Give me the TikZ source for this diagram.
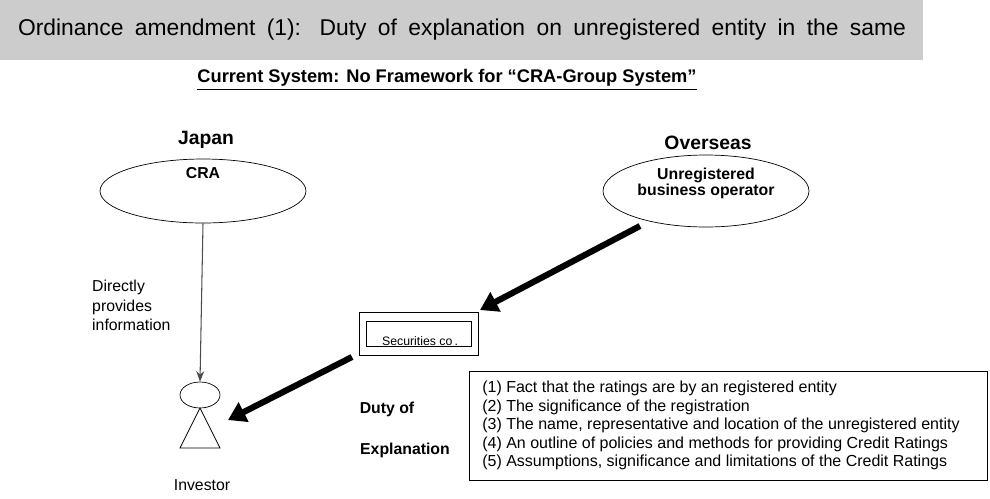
\documentclass[tikz,border=0pt]{standalone}
\usepackage{fontspec}
\setmainfont{Liberation Sans}
\usetikzlibrary{positioning,shapes.geometric,arrows.meta}
\tikzset{
  bigarrow/.style={-{Triangle[length=10pt,width=12pt]},line width=3.5pt},
  thinarrow/.style={-{Stealth[length=6pt]},draw=black!70,semithick},
  oval/.style={ellipse,draw,thin},
  lbl/.style={font=\bfseries\fontsize{11}{13}\selectfont}
}
\begin{document}
\begin{tikzpicture}[x=0.02cm,y=-0.02cm]
\useasboundingbox (0,0) rectangle (990,498);
\fill[black!20] (0,0) rectangle (923,60);
\node (title) at (462,30) {\fontsize{13}{16}\selectfont\makebox[17.76cm][s]{Ordinance amendment (1): Duty of explanation on unregistered entity in the same}};
\node (sub) at (447,80) {\fontsize{10.4}{12}\selectfont\bfseries\underline{Current System: No Framework for “CRA-Group System”}};
% ovals
\node[lbl] (japan) at (206,140) {Japan};
\node[oval,minimum width=4.12cm,minimum height=1.28cm] (cra) at (203,191) {};
\node[font=\bfseries\small] (cratext) at (203,173) {CRA};
\node[lbl] (overseas) at (708,143) {Overseas};
\node[oval,minimum width=4.12cm,minimum height=1.44cm] (ubo) at (706,191) {};
\node[font=\bfseries\small,align=center] (ubotext) at (706,183) {Unregistered\\[-2pt]business operator};
% investor
\node[ellipse,draw,minimum width=0.8cm,minimum height=0.52cm,inner sep=0pt] (head) at (200,395) {};
\coordinate (apex) at (200,408);
\draw (apex) -- (180,448) -- (220,448) -- cycle;
\node[font=\small] (inv) at (202,485) {Investor};
\coordinate (invarrow) at (228,420);
% securities
\draw (359,312) rectangle (478,355);
\draw (366,321) rectangle (471,346);
\node[font=\scriptsize,inner sep=0pt] (sec) at (420,341) {Securities co\,.};
\coordinate (secin) at (480,310);
\coordinate (secout) at (352,357);
\coordinate (uboout) at (640,226);
% arrows
\draw[thinarrow] (cra.south) -- (head.north);
\node[font=\small,align=left,anchor=north west] (direct) at (86,274) {Directly\\provides\\information};
\draw[bigarrow] (uboout) -- (secin);
\draw[bigarrow] (secout) -- (invarrow);
\node[font=\bfseries\small] (duty) at (387,409) {Duty of};
\node[font=\bfseries\small] (expl) at (405,450) {Explanation};
\draw (469,371) rectangle (987,480);
\node[anchor=north west,align=left,font=\fontsize{9.1}{10.5}\selectfont,inner sep=0pt] (list) at (482,381) {(1) Fact that the ratings are by an registered entity\\(2) The significance of the registration\\(3) The name, representative and location of the unregistered entity\\(4) An outline of policies and methods for providing Credit Ratings\\(5) Assumptions, significance and limitations of the Credit Ratings};
\end{tikzpicture}
\end{document}
